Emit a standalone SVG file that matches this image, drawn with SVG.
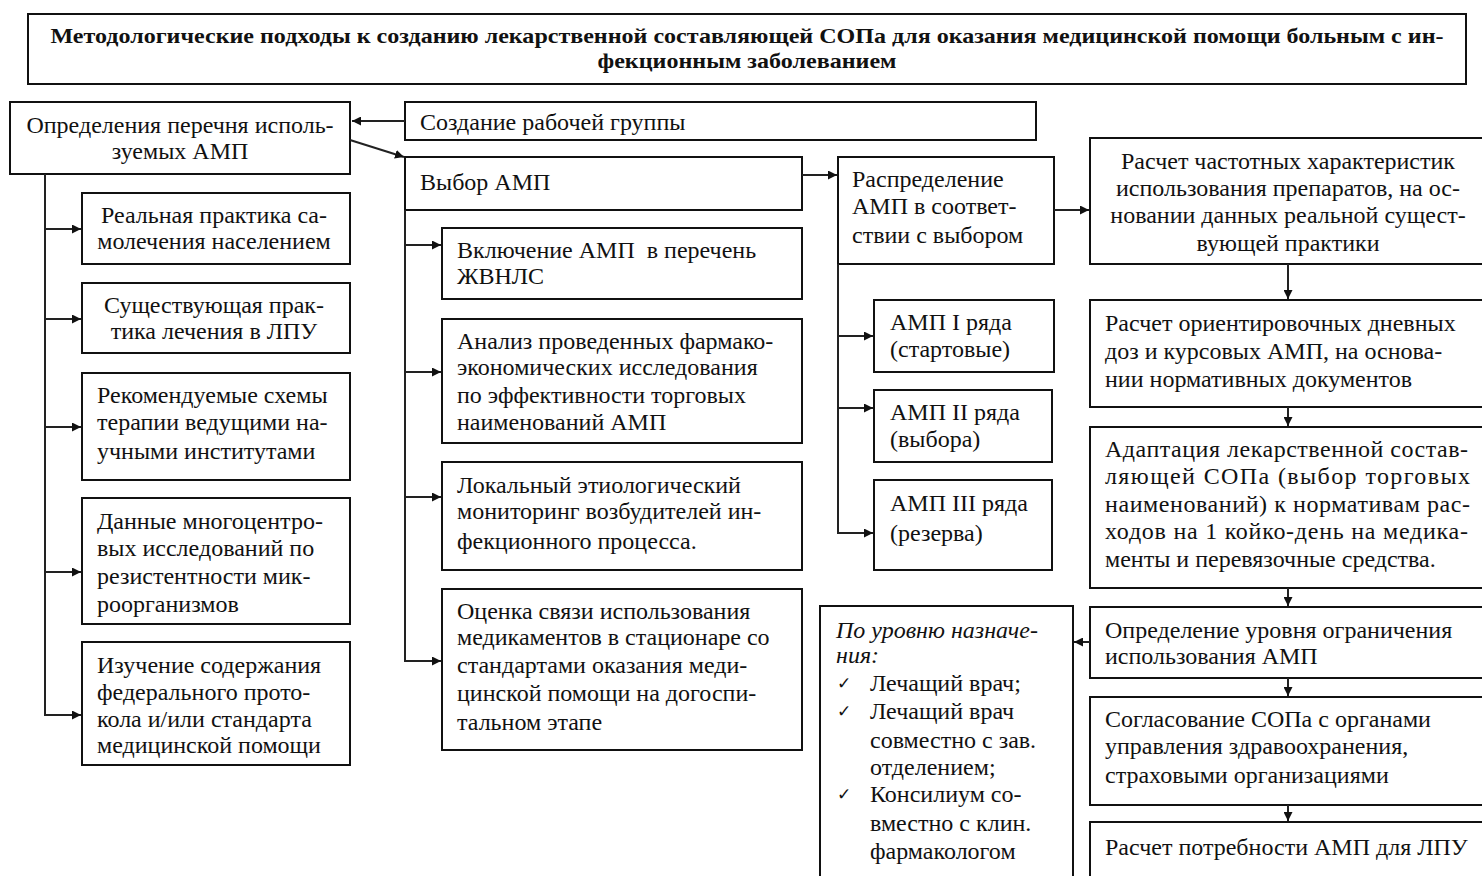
<svg xmlns="http://www.w3.org/2000/svg" width="1482" height="876" viewBox="0 0 1482 876">
<defs>
<marker id="ah" viewBox="0 0 10 10" refX="10" refY="5" markerWidth="9" markerHeight="9" markerUnits="userSpaceOnUse" orient="auto">
<path d="M0,0 L10,5 L0,10 z" fill="#111"/>
</marker>
<style>
rect{fill:#fff;stroke:#111;stroke-width:2}
text{font-family:"Liberation Serif","Times New Roman",serif;font-size:24px;fill:#111}
.c{text-anchor:middle}
.t{font-weight:bold;font-size:21px}
.i{font-style:italic}
.ck{font-family:"DejaVu Sans",sans-serif;font-size:17px}
.pre{white-space:pre}
#connectors path{fill:none;stroke:#222;stroke-width:2}
</style>
</defs>
<rect width="1482" height="876" style="fill:#fff;stroke:none"/>

<g id="title">
<rect x="28" y="14" width="1438" height="70"/>
<text class="t c" x="747" y="43" textLength="1393" lengthAdjust="spacingAndGlyphs">Методологические подходы к созданию лекарственной составляющей СОПа для оказания медицинской помощи больным с ин-</text>
<text class="t c" x="747" y="68" textLength="299" lengthAdjust="spacingAndGlyphs">фекционным заболеванием</text>
</g>

<g id="n-opredelenie">
<rect x="10" y="102" width="340" height="72"/>
<text class="c" x="180" y="133">Определения перечня исполь-</text>
<text class="c" x="180" y="159">зуемых АМП</text>
</g>

<g id="n-gruppa">
<rect x="405" y="102" width="631" height="38"/>
<text x="420" y="130">Создание рабочей группы</text>
</g>

<g id="n-vybor">
<rect x="405" y="157" width="397" height="53"/>
<text x="420" y="190">Выбор АМП</text>
</g>

<g id="n-samolech">
<rect x="82" y="193" width="268" height="71"/>
<text class="c" x="214" y="223">Реальная практика са-</text>
<text class="c" x="214" y="249">молечения населением</text>
</g>

<g id="n-praktika">
<rect x="82" y="283" width="268" height="70"/>
<text class="c" x="214" y="313">Существующая прак-</text>
<text class="c" x="214" y="339">тика лечения в ЛПУ</text>
</g>

<g id="n-shemy">
<rect x="82" y="373" width="268" height="107"/>
<text x="97" y="403">Рекомендуемые схемы</text>
<text x="97" y="430">терапии ведущими на-</text>
<text x="97" y="459">учными институтами</text>
</g>

<g id="n-dannye">
<rect x="82" y="498" width="268" height="126"/>
<text x="97" y="529">Данные многоцентро-</text>
<text x="97" y="556">вых исследований по</text>
<text x="97" y="584">резистентности мик-</text>
<text x="97" y="612">роорганизмов</text>
</g>

<g id="n-protokol">
<rect x="82" y="642" width="268" height="123"/>
<text x="97" y="673">Изучение содержания</text>
<text x="97" y="700">федерального прото-</text>
<text x="97" y="727">кола и/или стандарта</text>
<text x="97" y="753">медицинской помощи</text>
</g>

<g id="n-zhvnls">
<rect x="442" y="228" width="360" height="71"/>
<text class="pre" x="457" y="258">Включение АМП  в перечень</text>
<text x="457" y="284">ЖВНЛС</text>
</g>

<g id="n-analiz">
<rect x="442" y="319" width="360" height="124"/>
<text x="457" y="349">Анализ проведенных фармако-</text>
<text x="457" y="375">экономических исследования</text>
<text x="457" y="403">по эффективности торговых</text>
<text x="457" y="430">наименований АМП</text>
</g>

<g id="n-monitoring">
<rect x="442" y="462" width="360" height="108"/>
<text x="457" y="493">Локальный этиологический</text>
<text x="457" y="519">мониторинг возбудителей ин-</text>
<text x="457" y="549">фекционного процесса.</text>
</g>

<g id="n-ocenka">
<rect x="442" y="589" width="360" height="161"/>
<text x="457" y="619">Оценка связи использования</text>
<text x="457" y="645">медикаментов в стационаре со</text>
<text x="457" y="673">стандартами оказания меди-</text>
<text x="457" y="701">цинской помощи на догоспи-</text>
<text x="457" y="730">тальном этапе</text>
</g>

<g id="n-raspredelenie">
<rect x="838" y="157" width="216" height="107"/>
<text x="852" y="187">Распределение</text>
<text x="852" y="214">АМП в соответ-</text>
<text x="852" y="243">ствии с выбором</text>
</g>

<g id="n-amp1">
<rect x="874" y="300" width="180" height="72"/>
<text x="890" y="330">АМП I ряда</text>
<text x="890" y="357">(стартовые)</text>
</g>

<g id="n-amp2">
<rect x="874" y="390" width="178" height="72"/>
<text x="890" y="420">АМП II ряда</text>
<text x="890" y="447">(выбора)</text>
</g>

<g id="n-amp3">
<rect x="874" y="480" width="178" height="90"/>
<text x="890" y="511">АМП III ряда</text>
<text x="890" y="541">(резерва)</text>
</g>

<g id="n-chastota">
<rect x="1090" y="138" width="400" height="126"/>
<text class="c" x="1288" y="169">Расчет частотных характеристик</text>
<text class="c" x="1288" y="196">использования препаратов, на ос-</text>
<text class="c" x="1288" y="223">новании данных реальной сущест-</text>
<text class="c" x="1288" y="251">вующей практики</text>
</g>

<g id="n-dozy">
<rect x="1090" y="300" width="400" height="107"/>
<text x="1105" y="331">Расчет ориентировочных дневных</text>
<text x="1105" y="359">доз и курсовых АМП, на основа-</text>
<text x="1105" y="387">нии нормативных документов</text>
</g>

<g id="n-adaptaciya">
<rect x="1090" y="427" width="400" height="161"/>
<text x="1105" y="457" textLength="363" lengthAdjust="spacing">Адаптация лекарственной состав-</text>
<text x="1105" y="484" textLength="365" lengthAdjust="spacing">ляющей СОПа (выбор торговых</text>
<text x="1105" y="512" textLength="365" lengthAdjust="spacing">наименований) к нормативам рас-</text>
<text x="1105" y="539" textLength="363" lengthAdjust="spacing">ходов на 1 койко-день на медика-</text>
<text x="1105" y="567">менты и перевязочные средства.</text>
</g>

<g id="n-uroven">
<rect x="1090" y="607" width="400" height="71"/>
<text x="1105" y="638">Определение уровня ограничения</text>
<text x="1105" y="664">использования АМП</text>
</g>

<g id="n-naznachenie">
<rect x="820" y="606" width="253" height="272"/>
<text class="i" x="836" y="638">По уровню назначе-</text>
<text class="i" x="836" y="663">ния:</text>
<text class="ck" x="837" y="689">✓</text>
<text x="870" y="691">Лечащий врач;</text>
<text class="ck" x="837" y="717">✓</text>
<text x="870" y="719">Лечащий врач</text>
<text x="870" y="748">совместно с зав.</text>
<text x="870" y="775">отделением;</text>
<text class="ck" x="837" y="800">✓</text>
<text x="870" y="802">Консилиум со-</text>
<text x="870" y="831">вместно с клин.</text>
<text x="870" y="859">фармакологом</text>
</g>

<g id="n-soglasovanie">
<rect x="1090" y="697" width="400" height="108"/>
<text x="1105" y="727">Согласование СОПа с органами</text>
<text x="1105" y="754">управления здравоохранения,</text>
<text x="1105" y="783">страховыми организациями</text>
</g>

<g id="n-potrebnost">
<rect x="1090" y="822" width="400" height="70"/>
<text x="1105" y="855">Расчет потребности АМП для ЛПУ</text>
</g>

<g id="connectors">
<path d="M405,121 H352" marker-end="url(#ah)"/>
<path d="M350,140 L404,157" marker-end="url(#ah)"/>
<path d="M45,174 V715 H81" marker-end="url(#ah)"/>
<path d="M45,229 H81" marker-end="url(#ah)"/>
<path d="M45,319 H81" marker-end="url(#ah)"/>
<path d="M45,427 H81" marker-end="url(#ah)"/>
<path d="M45,572 H81" marker-end="url(#ah)"/>
<path d="M405,210 V661 H441" marker-end="url(#ah)"/>
<path d="M405,245 H441" marker-end="url(#ah)"/>
<path d="M405,372 H441" marker-end="url(#ah)"/>
<path d="M405,497 H441" marker-end="url(#ah)"/>
<path d="M802,175 H837" marker-end="url(#ah)"/>
<path d="M1054,210 H1089" marker-end="url(#ah)"/>
<path d="M838,264 V533 H873" marker-end="url(#ah)"/>
<path d="M838,336 H873" marker-end="url(#ah)"/>
<path d="M838,408 H873" marker-end="url(#ah)"/>
<path d="M1288,264 V299" marker-end="url(#ah)"/>
<path d="M1288,407 V426" marker-end="url(#ah)"/>
<path d="M1288,588 V606" marker-end="url(#ah)"/>
<path d="M1288,678 V696" marker-end="url(#ah)"/>
<path d="M1288,805 V821" marker-end="url(#ah)"/>
<path d="M1090,642 H1074" marker-end="url(#ah)"/>
</g>
</svg>
